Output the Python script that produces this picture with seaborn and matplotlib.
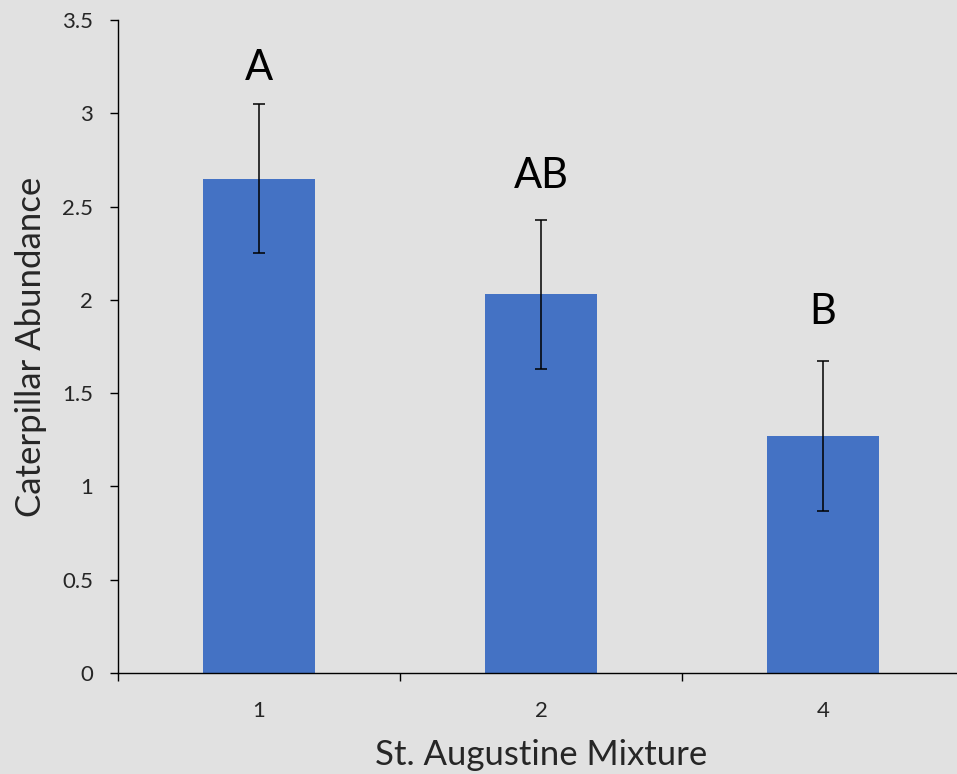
import numpy as np
import pandas as pd
import matplotlib
matplotlib.use("Agg")
import matplotlib.pyplot as plt
from matplotlib.ticker import FixedLocator, NullFormatter
import seaborn as sns

# Data
mixtures = ["1", "2", "4"]
abundance = [2.65, 2.03, 1.27]
std_err = [0.40, 0.40, 0.40]
letters = ["A", "AB", "B"]
letter_gap = [0.13, 0.17, 0.20]   # space between error cap and letter baseline

bg = "#e1e1e1"
bar_color = "#4472c4"

sns.set_theme(style="ticks")
plt.rcParams["font.family"] = ["Lato", "DejaVu Sans"]

df = pd.DataFrame({"mixture": mixtures, "abundance": abundance})

fig = plt.figure(figsize=(9.57, 7.74), dpi=100, facecolor=bg)
ax = fig.add_axes([118 / 957, 101 / 774, 846 / 957, 653 / 774])
ax.set_facecolor(bg)

sns.barplot(data=df, x="mixture", y="abundance", color=bar_color,
            width=0.4, saturation=1, errorbar=None, linewidth=0, ax=ax)
ax.errorbar(np.arange(len(mixtures)), abundance, yerr=std_err, fmt="none",
            ecolor="black", elinewidth=1.1, capsize=4.5, capthick=1.1)

for i, (m, e, lab, g) in enumerate(zip(abundance, std_err, letters, letter_gap)):
    ax.text(i, m + e + g, lab, ha="center", va="baseline",
            fontsize=30, color="black")

ax.set_xlim(-0.5, 2.5)
ax.set_ylim(0, 3.5)
ax.set_yticks(np.arange(0, 3.51, 0.5))
ax.set_yticklabels(["0", "0.5", "1", "1.5", "2", "2.5", "3", "3.5"])

# Excel-like category axis: ticks at category boundaries
ax.xaxis.set_minor_locator(FixedLocator([-0.5, 0.5, 1.5, 2.5]))
ax.xaxis.set_minor_formatter(NullFormatter())
ax.tick_params(axis="x", which="major", length=0, labelsize=16, pad=20)
ax.tick_params(axis="x", which="minor", length=6, width=1, color="black")
ax.tick_params(axis="y", length=6, width=1, color="black", labelsize=16, pad=12)

for s in ["top", "right"]:
    ax.spines[s].set_visible(False)
for s in ["left", "bottom"]:
    ax.spines[s].set_color("black")
    ax.spines[s].set_linewidth(1)

ax.set_xlabel("St. Augustine Mixture", fontsize=25, labelpad=13)
ax.set_ylabel("Caterpillar Abundance", fontsize=25, labelpad=11)

fig.savefig("out.png", dpi=100, facecolor=bg)
